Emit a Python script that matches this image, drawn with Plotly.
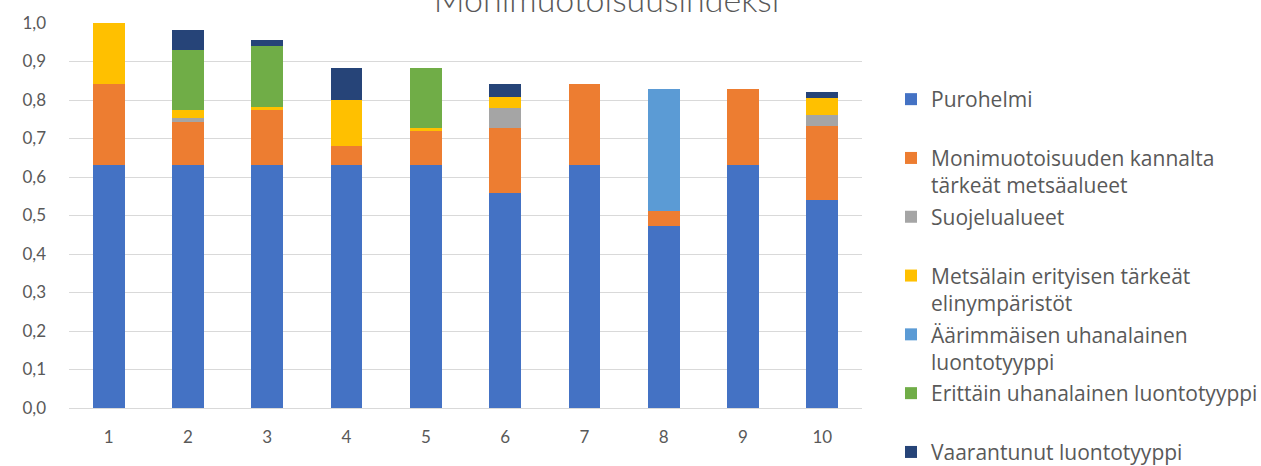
import plotly.graph_objects as go

categories = ["1", "2", "3", "4", "5", "6", "7", "8", "9", "10"]

purohelmi = [0.632, 0.632, 0.632, 0.632, 0.632, 0.559, 0.632, 0.473, 0.632, 0.541]
monimuotoisuus = [0.210, 0.112, 0.143, 0.048, 0.089, 0.169, 0.209, 0.039, 0.196, 0.191]
suojelualueet = [0, 0.009, 0, 0, 0, 0.050, 0, 0, 0, 0.030]
metsalaki = [0.158, 0.021, 0.007, 0.119, 0.005, 0.029, 0, 0, 0, 0.043]
aarimmaisen = [0, 0, 0, 0, 0, 0, 0, 0.316, 0, 0]
erittain = [0, 0.157, 0.158, 0, 0.156, 0, 0, 0, 0, 0]
vaarantunut = [0, 0.050, 0.017, 0.083, 0, 0.034, 0, 0, 0, 0.017]

series_names = [
    "Purohelmi<br> ",
    "Monimuotoisuuden kannalta<br>tärkeät metsäalueet",
    "Suojelualueet<br> ",
    "Metsälain erityisen tärkeät<br>elinympäristöt",
    "Äärimmäisen uhanalainen<br>luontotyyppi",
    "Erittäin uhanalainen luontotyyppi<br> ",
    "Vaarantunut luontotyyppi<br> ",
]
series_values = [purohelmi, monimuotoisuus, suojelualueet, metsalaki,
                 aarimmaisen, erittain, vaarantunut]
series_colors = ["#4472C4", "#ED7D31", "#A5A5A5", "#FFC000",
                 "#5B9BD5", "#70AD47", "#264478"]

ytick_vals = [0, 0.1, 0.2, 0.3, 0.4, 0.5, 0.6, 0.7, 0.8, 0.9, 1.0]
ytick_text = ["0,0", "0,1", "0,2", "0,3", "0,4", "0,5", "0,6", "0,7", "0,8", "0,9", "1,0"]

fig = go.Figure()
for i, (name, vals, col) in enumerate(zip(series_names, series_values, series_colors)):
    fig.add_trace(go.Bar(
        x=categories, y=vals, name=name, legendgroup=f"g{i}",
        marker=dict(color=col, line=dict(width=0)),
    ))

FONT = "Lato"
GREY = "#595959"

fig.update_layout(
    barmode="stack",
    bargap=0.6,
    width=1261, height=466,
    margin=dict(l=69, r=399, t=19, b=58),
    paper_bgcolor="white",
    plot_bgcolor="white",
    font=dict(family=FONT, color=GREY),
    title=dict(
        text="Monimuotoisuusindeksi",
        font=dict(family=FONT, size=34, color=GREY, weight=300),
        x=0.481, xanchor="center", xref="container",
        y=1 - 12 / 466, yanchor="bottom", yref="container",
    ),
    xaxis=dict(
        type="category",
        tickfont=dict(family=FONT, size=17, color=GREY),
        showgrid=False,
        showline=True, linecolor="#D9D9D9", linewidth=1,
        ticks="", ticklabelstandoff=14,
    ),
    yaxis=dict(
        range=[0, 1.0],
        tickvals=ytick_vals, ticktext=ytick_text,
        tickfont=dict(family=FONT, size=17, color=GREY),
        showgrid=True, gridcolor="#D9D9D9", gridwidth=1,
        zeroline=False, ticks="", ticklabelstandoff=22,
    ),
    legend=dict(
        xref="container", yref="container",
        x=891 / 1261, xanchor="left",
        y=1 - 79 / 466, yanchor="top",
        font=dict(family="Open Sans", size=21, color=GREY),
        traceorder="grouped",
        valign="top",
        tracegroupgap=1.2,
        maxheight=800,
        bgcolor="rgba(0,0,0,0)",
    ),
    showlegend=True,
)

fig.write_html("out.html")
